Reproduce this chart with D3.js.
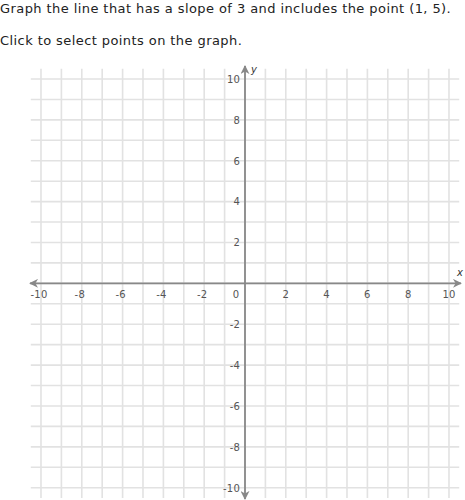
<!DOCTYPE html>
<html>
<head>
<meta charset="utf-8">
<script src="https://cdn.jsdelivr.net/npm/d3@7"></script>
<style>
  html, body { margin: 0; padding: 0; background: #fff; }
  svg { display: block; }
</style>
</head>
<body>
<svg id="chart" width="465" height="500"></svg>
<script>
const promptLines = ["Graph the line that has a slope of 3 and includes the point (1, 5).", "Click to select points on the graph."];
const xDomain = [-10, 10];
const yDomain = [-10, 10];
const gridValues = d3.range(-10, 11, 1);
const xTickValues = [-10, -8, -6, -4, -2, 0, 2, 4, 6, 8, 10];
const yTickValues = [-10, -8, -6, -4, -2, 2, 4, 6, 8, 10];
const axisLabels = ["x", "y"];

const svg = d3.select("#chart");
const font = "DejaVu Sans, Verdana, sans-serif";

svg.selectAll("text.prompt").data(promptLines).join("text")
  .attr("class", "prompt")
  .attr("x", 0)
  .attr("y", (d, i) => 12.5 + i * 32)
  .attr("font-family", font)
  .attr("font-size", 13)
  .attr("letter-spacing", 0.42)
  .attr("fill", "#222")
  .text(d => d);

const x = d3.scaleLinear().domain(xDomain).range([41, 449]);
const y = d3.scaleLinear().domain(yDomain).range([487.7, 79]);
const half = (x(1) - x(0)) / 2;

const grid = svg.append("g");
grid.selectAll("line.v").data(gridValues).join("line")
  .attr("x1", d => x(d)).attr("x2", d => x(d))
  .attr("y1", y(10) - half).attr("y2", y(-10) + half)
  .attr("stroke", "#e2e2e2").attr("stroke-width", 1.6);
grid.selectAll("line.h").data(gridValues).join("line")
  .attr("y1", d => y(d)).attr("y2", d => y(d))
  .attr("x1", x(-10) - half).attr("x2", x(10) + half)
  .attr("stroke", "#e2e2e2").attr("stroke-width", 1.6);

const defs = svg.append("defs");
defs.append("marker").attr("id", "arrow")
  .attr("viewBox", "0 0 10 10").attr("refX", 9).attr("refY", 5)
  .attr("markerWidth", 9).attr("markerHeight", 9)
  .attr("markerUnits", "userSpaceOnUse")
  .attr("orient", "auto-start-reverse")
  .append("path").attr("d", "M0,0 L10,5 L0,10 L3,5 Z").attr("fill", "#888");

const axisColor = "#888";
svg.append("line")
  .attr("x1", 30).attr("x2", 461)
  .attr("y1", y(0)).attr("y2", y(0))
  .attr("stroke", axisColor).attr("stroke-width", 1.8)
  .attr("marker-start", "url(#arrow)").attr("marker-end", "url(#arrow)");
svg.append("line")
  .attr("x1", x(0)).attr("x2", x(0))
  .attr("y1", 66).attr("y2", 499)
  .attr("stroke", axisColor).attr("stroke-width", 1.8)
  .attr("marker-start", "url(#arrow)").attr("marker-end", "url(#arrow)");

svg.selectAll("text.xt").data(xTickValues).join("text")
  .attr("class", "xt")
  .attr("x", d => d === 0 ? x(0) - 9 : x(d) - (d < 0 ? 2 : 0))
  .attr("y", y(0) + 14.5)
  .attr("text-anchor", "middle")
  .attr("font-family", font).attr("font-size", 10)
  .attr("letter-spacing", 0.2)
  .attr("fill", "#555")
  .text(d => d);

svg.selectAll("text.yt").data(yTickValues).join("text")
  .attr("class", "yt")
  .attr("x", x(0) - 5)
  .attr("y", d => y(d) + 3.8)
  .attr("text-anchor", "end")
  .attr("font-family", font).attr("font-size", 10)
  .attr("letter-spacing", 0.2)
  .attr("fill", "#555")
  .text(d => d);

svg.append("text").attr("x", 460).attr("y", 276)
  .attr("text-anchor", "middle").attr("font-family", font)
  .attr("font-size", 10).attr("font-style", "italic").attr("fill", "#333")
  .text(axisLabels[0]);
svg.append("text").attr("x", 254).attr("y", 73)
  .attr("text-anchor", "middle").attr("font-family", font)
  .attr("font-size", 10).attr("font-style", "italic").attr("fill", "#333")
  .text(axisLabels[1]);
</script>
</body>
</html>
